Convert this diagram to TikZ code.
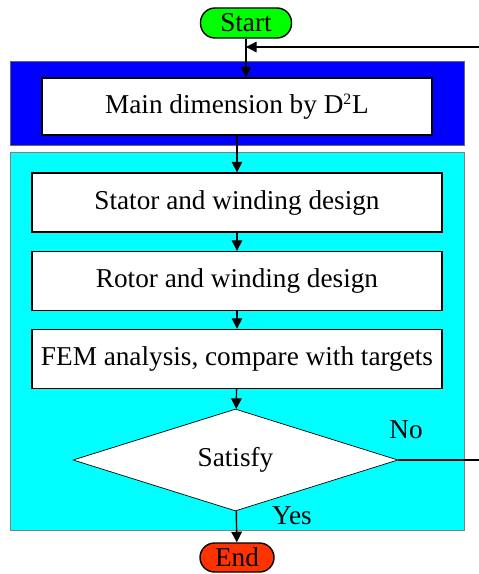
\documentclass[tikz,border=0pt]{standalone}
\usepackage{fontspec}
\setmainfont{Liberation Serif}
\usetikzlibrary{arrows.meta,positioning,shapes.geometric}
\definecolor{startgreen}{RGB}{0,255,0}
\definecolor{endred}{RGB}{255,51,0}
\definecolor{outerblue}{RGB}{0,0,255}
\definecolor{innercyan}{RGB}{0,255,255}

\begin{document}
\begin{tikzpicture}[x=0.02cm, y=-0.02cm,
    font=\fontsize{15.5}{18}\selectfont,
    pill/.style={draw, thick, rounded corners=0.29cm, inner sep=0pt},
    stepbox/.style={draw, thick, fill=white, minimum width=8.2cm, minimum height=1.18cm, inner sep=0pt},
    flow/.style={thick, -{Triangle[length=6pt, width=6pt]}}]
    \useasboundingbox (0, 0) rectangle (479, 574);

    % background blocks
    \draw[fill=outerblue, draw=black!60] (10, 61) rectangle (464, 145);
    \draw[fill=innercyan, draw=black!50] (10, 152) rectangle (464, 530);

    \node[pill, fill=startgreen, minimum width=1.82cm, minimum height=0.6cm] (start) at (246, 23) {Start};
    \node[stepbox, minimum width=7.8cm, minimum height=1.14cm] (main) at (237, 106.5) {Main dimension by D\textsuperscript{\small 2}L};
    \node[stepbox] (stator) at (237, 202.5) {Stator and winding design};
    \node[stepbox] (rotor) at (237, 281) {Rotor and winding design};
    \node[stepbox] (fem) at (237, 359) {FEM analysis, compare with targets};
    \node[diamond, draw, fill=white, minimum width=6.5cm, minimum height=2.04cm, inner sep=0pt] (sat) at (235.5, 460) {Satisfy};
    \node[pill, fill=endred, minimum width=1.48cm, minimum height=0.58cm] (end) at (237, 557.5) {End};

    \node (no) at (406, 430) {No};
    \node (yes) at (292, 516) {Yes};

    \coordinate (join) at (246, 47);
    \coordinate (loop) at (495, 47);

    \draw[flow] (start) -- (start.south |- main.north);
    \draw[flow] (main) -- (stator);
    \draw[flow] (stator) -- (rotor);
    \draw[flow] (rotor) -- (fem);
    \draw[flow] (fem) -- (sat);
    \draw[flow] (sat) -- (end);
    \draw[flow] (sat.east) -| (loop) -- (join);
\end{tikzpicture}
\end{document}
